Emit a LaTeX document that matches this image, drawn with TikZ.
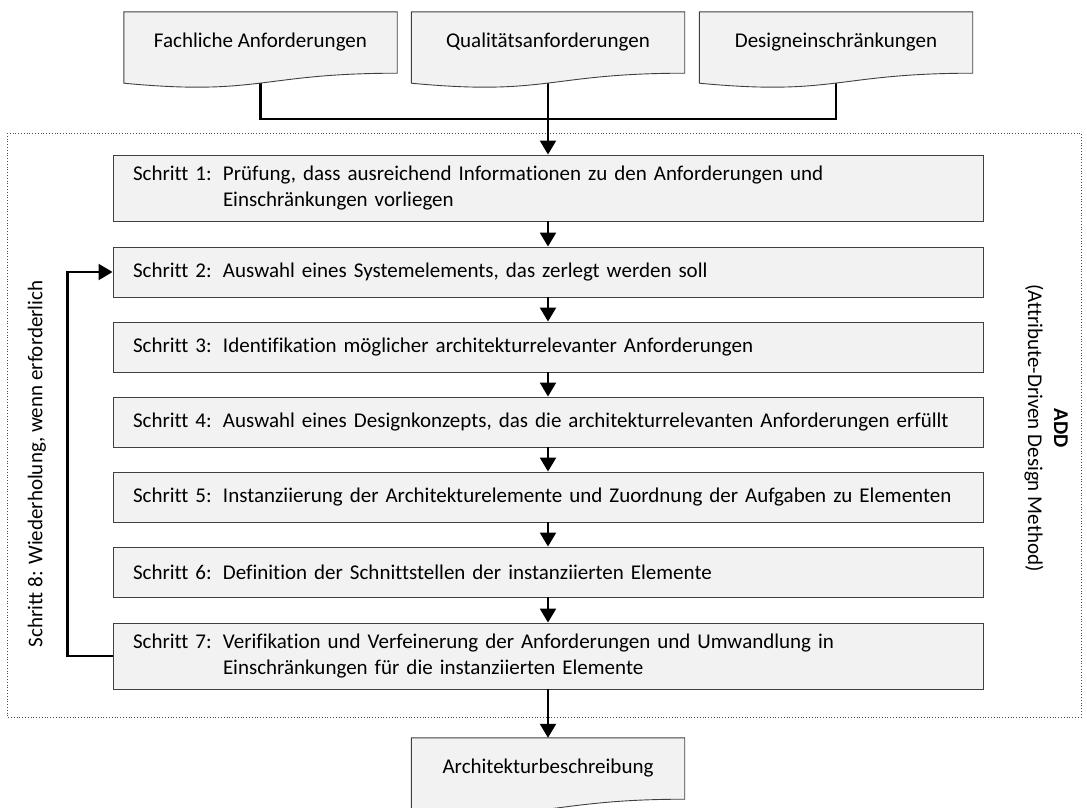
\documentclass[tikz,border=0pt]{standalone}
\usepackage{fontspec}
\setmainfont[Ligatures=NoCommon]{Carlito}
\usetikzlibrary{arrows.meta,calc,backgrounds}

\tikzset{
  docbox/.style={minimum width=273pt, minimum height=61pt, inner sep=0pt},
  stepbox/.style={draw=black!75, fill=black!5, line width=0.9pt, text width=830pt,
    inner xsep=20pt, inner ysep=0pt, minimum height=50pt, align=left},
  flow/.style={line width=2.2pt, -{Triangle[length=14pt,width=16pt]}},
  link/.style={line width=2.2pt},
}
\newcommand{\schritt}[2]{\makebox[90pt][l]{Schritt #1:}\parbox[t]{740pt}{#2}}
\newcommand{\docshape}[1]{%
  \filldraw[draw=black!75, fill=black!5, line width=0.9pt]
    (#1.north west) -- (#1.north east) -- (#1.south east)
    .. controls (#1.south) and ($(#1.south)+(0,23)$) .. ($(#1.south west)+(0,10)$) -- cycle;}

\begin{document}
\begin{tikzpicture}[x=1pt, y=-1pt, font=\fontsize{21}{26}\selectfont]
\useasboundingbox (0,0) rectangle (1087,807);

% Eingaben
\node[docbox] (fa) at (260.5,42.5) {Fachliche Anforderungen};
\node[docbox] (qa) at (548,42.5) {Qualitätsanforderungen};
\node[docbox] (de) at (836,42.5) {Designeinschränkungen};
\coordinate (jn) at (548,119);

% Schritte 1-7
\node[stepbox, minimum height=66pt] (s1) at (548,188) {\schritt{1}{Prüfung, dass ausreichend Informationen zu den Anforderungen und\\Einschränkungen vorliegen}};
\node[stepbox] (s2) at (548,272) {\schritt{2}{Auswahl eines Systemelements, das zerlegt werden soll}};
\node[stepbox] (s3) at (548,347) {\schritt{3}{Identifikation möglicher architekturrelevanter Anforderungen}};
\node[stepbox] (s4) at (548,422) {\schritt{4}{Auswahl eines Designkonzepts, das die architekturrelevanten Anforderungen erfüllt}};
\node[stepbox] (s5) at (548,497) {\schritt{5}{Instanziierung der Architekturelemente und Zuordnung der Aufgaben zu Elementen}};
\node[stepbox] (s6) at (548,572) {\schritt{6}{Definition der Schnittstellen der instanziierten Elemente}};
\node[stepbox, minimum height=66pt] (s7) at (548,656) {\schritt{7}{Verifikation und Verfeinerung der Anforderungen und Umwandlung in\\Einschränkungen für die instanziierten Elemente}};

% Ergebnis
\node[docbox] (ab) at (548,768.5) {Architekturbeschreibung};

% Beschriftungen
\node[rotate=90] (wdh) at (37,464) {Schritt 8: Wiederholung, wenn erforderlich};
\node[rotate=-90, align=center] (add) at (1046,428) {\textbf{ADD}\\(Attribute-Driven Design Method)};

\begin{scope}[on background layer]
  \draw[black!70, dotted, line width=0.8pt] (7,133) rectangle (1081,717);
  \draw[link] (fa.south) |- (jn) -| (de.south);
  \docshape{fa}
  \docshape{de}
  \docshape{ab}
  \draw[flow] (qa.south) -- (s1.north);
  \docshape{qa}
\end{scope}

\foreach \a/\b in {s1/s2, s2/s3, s3/s4, s4/s5, s5/s6, s6/s7}
  \draw[flow] (\a) -- (\b);
\draw[flow] (s7.west) -- ++(-45,0) |- (s2.west);
\draw[flow] (s7.south) -- (ab.north);
\end{tikzpicture}
\end{document}
